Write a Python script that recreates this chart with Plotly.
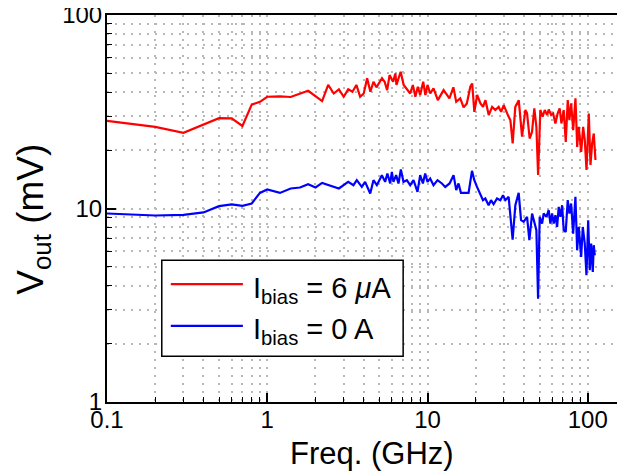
import plotly.graph_objects as go

# ---- data ----
freq_red = [0.1, 0.2, 0.3, 0.5, 0.6, 0.7, 0.8, 0.9, 1.0, 1.2, 1.4, 1.6, 1.8, 2.2, 2.4,
            2.6, 2.8, 3.0, 3.2, 3.4, 3.6, 3.8, 4.0, 4.2, 4.4, 4.6, 4.8, 5.2, 5.4, 5.6,
            5.8, 6.1, 6.3, 6.4, 6.8, 7.1, 7.4, 7.8, 8.1, 8.4, 8.7, 9.0, 9.4, 9.7, 10.0,
            10.4, 10.9, 11.6, 12.6, 13.7, 14.5, 15.1, 16.0, 16.8, 17.6, 18.5, 19.0, 19.6,
            20.4, 21.4, 22.2, 23.0, 24.1, 25.3, 26.5, 27.8, 28.8, 29.9, 31.4, 32.9, 34.0,
            35.3, 37.1, 38.9, 40.8, 41.8, 43.4, 44.9, 46.4, 47.8, 49.0, 50.6, 52.3, 53.9,
            55.8, 57.1, 59.1, 60.8, 62.8, 64.9, 66.8, 68.5, 70.8, 72.9, 75.0, 76.8, 78.8,
            81.1, 83.8, 85.9, 87.9, 91.0, 93.6, 95.8, 98.2, 101.5, 104.0, 106.5, 109.0, 111.7]
vout_red = [28.4, 26.4, 24.6, 29.3, 29.2, 26.7, 34.4, 35.6, 37.8, 38.0, 37.7, 39.3, 40.6, 35.9, 43.5,
            39.3, 41.3, 37.8, 41.3, 40.1, 43.5, 37.8, 39.3, 47.1, 40.1, 45.2, 42.3, 47.1, 45.2, 40.9,
            48.9, 45.2, 49.9, 43.5, 50.9, 43.5, 41.8, 39.3, 43.5, 37.8, 42.6, 38.6, 45.2, 38.6, 43.5,
            39.3, 41.8, 36.3, 40.9, 37.1, 42.3, 35.6, 37.1, 33.3, 34.9, 42.6, 44.3, 31.6,
            38.6, 34.9, 33.5, 36.3, 30.4, 33.5, 32.3, 33.5, 31.6, 34.2, 31.0, 28.6, 21.7,
            33.5, 36.3, 23.5, 32.3, 31.0, 23.0, 24.9, 32.9, 26.4, 14.9, 32.3, 29.8, 32.3,
            30.4, 32.5, 30.4, 31.0, 27.5, 31.0, 32.9, 27.5, 32.3, 22.1, 36.3, 28.6, 34.9,
            25.4, 37.1, 20.8, 26.4, 19.6, 26.4, 22.6, 15.8, 31.0, 16.8, 21.7, 24.4, 17.8]

freq_blue = [0.1, 0.2, 0.3, 0.4, 0.5, 0.6, 0.7, 0.8, 0.9, 1.0, 1.2, 1.4, 1.6, 1.8, 2.0, 2.2,
             2.8, 3.2, 3.45, 3.62, 3.89, 4.08, 4.39, 4.60, 4.83, 5.19, 5.44, 5.62, 5.85, 5.99,
             6.13, 6.37, 6.59, 6.82, 7.08, 7.43, 7.80, 8.18, 8.66, 9.00, 9.36, 9.67, 10.0,
             10.39, 10.9, 11.55, 12.30, 12.90, 13.73, 14.54, 15.11, 15.62, 16.17, 16.79, 18.04,
             18.95, 19.59, 20.37, 21.35, 22.20, 22.95, 24.06, 24.91, 25.85, 27.15, 28.48, 29.60,
             30.59, 32.08, 33.98, 35.33, 37.06, 38.35, 39.81, 41.81, 43.21, 44.93, 46.44, 47.80,
             48.98, 50.12, 51.88, 53.09, 55.20, 57.05, 58.46, 59.91, 61.31, 62.82, 64.39, 65.89,
             67.52, 69.18, 70.79, 72.87, 74.99, 76.84, 78.75, 81.05, 83.77, 85.87, 87.87, 90.96,
             93.07, 95.79, 98.15, 100.6, 102.9, 105.0, 107.5, 109.0, 110.6]
vout_blue = [9.42, 9.20, 9.27, 9.54, 10.28, 10.49, 10.32, 10.61, 12.04, 12.54, 12.04, 12.69, 12.84, 13.36, 12.84, 13.56,
             12.69, 13.73, 13.20, 14.01, 12.93, 13.73, 11.96, 14.01, 13.20, 14.87, 13.73, 15.18, 13.47, 15.47,
             13.73, 14.87, 13.47, 15.92, 13.73, 14.01, 13.20, 14.01, 12.19, 14.87, 13.47, 15.18, 13.73,
             14.30, 13.20, 14.01, 13.47, 12.93, 13.47, 14.87, 12.44, 13.47, 12.04, 12.04, 12.04,
             15.65, 14.01, 12.93, 11.96, 11.04, 11.27, 10.40, 11.04, 10.52, 11.27, 11.04, 11.72,
             11.04, 11.48, 6.91, 10.40, 12.04, 8.70, 8.53, 9.05, 6.86, 9.42, 8.53, 7.72,
             3.42, 9.05, 8.36, 9.42, 9.05, 9.80, 8.36, 9.42, 8.36, 9.23, 8.03, 10.19,
             9.05, 10.40, 7.72, 7.56, 11.04, 9.42, 10.61, 7.42, 11.48, 6.08, 8.03, 5.62,
             8.03, 6.59, 4.52, 8.70, 4.80, 6.59, 4.70, 6.46, 5.73]

x_tick_vals = [0.1, 1, 10, 100]
x_tick_text = ["0.1", "1", "10", "100"]
y_tick_vals = [1, 10, 100]
y_tick_text = ["1", "10", "100"]
x_title = "Freq. (GHz)"
y_title = "V<sub>out</sub> (mV)"
legend_red = "I<sub>bias</sub> = 6 <i>\u03bc</i>A"
legend_blue = "I<sub>bias</sub> = 0 A"

FONT = "Liberation Sans, Arial, Helvetica, sans-serif"
GRID = "#b8b8b8"

x_minor = [m * 10 ** e for e in (-1, 0, 1, 2) for m in range(2, 10)]
y_minor = [m * 10 ** e for e in (0, 1) for m in range(2, 10)]

fig = go.Figure()
fig.add_trace(go.Scatter(x=freq_red, y=vout_red, mode="lines", name=legend_red,
                         line=dict(color="#ff0000", width=2.2), showlegend=False))
fig.add_trace(go.Scatter(x=freq_blue, y=vout_blue, mode="lines", name=legend_blue,
                         line=dict(color="#0000ff", width=2.2), showlegend=False))

axis_common = dict(
    type="log",
    showline=True, linecolor="black", linewidth=2,
    ticks="inside", ticklen=9, tickwidth=1.5, tickcolor="black",
    showgrid=True, gridcolor=GRID, gridwidth=1.5, griddash="2px,6px",
    zeroline=False,
    ticklabeloverflow="allow",
    tickfont=dict(family=FONT, size=24, color="black"),
)

# x axis runs to 200 GHz; the picture is cropped at the right edge
fig.update_xaxes(
    **axis_common,
    range=[-1, 2.30103],
    tickmode="array", tickvals=x_tick_vals, ticktext=x_tick_text,
    ticklabelstandoff=-5,
    mirror=True,
    minor=dict(tickmode="array", tickvals=x_minor, ticks="inside", ticklen=5,
               tickwidth=1.2, tickcolor="black", showgrid=True, gridcolor=GRID,
               gridwidth=1.5, griddash="2px,6px"),
)
fig.update_yaxes(
    **axis_common,
    range=[0, 2],
    tickmode="array", tickvals=y_tick_vals, ticktext=y_tick_text,
    ticklabelstandoff=-2,
    minor=dict(tickmode="array", tickvals=y_minor, ticks="inside", ticklen=5,
               tickwidth=1.2, tickcolor="black", showgrid=True, gridcolor=GRID,
               gridwidth=1.5, griddash="2px,6px"),
)

PW = 528.2  # plot width in px
PH = 386.7  # plot height in px
def px(x):
    return (x - 107.3) / PW
def py(y):
    return (401.7 - y) / PH

# axis titles
fig.add_annotation(xref="paper", yref="paper", x=0.5, y=py(453), xanchor="center", yanchor="middle",
                   text=x_title, showarrow=False, font=dict(family=FONT, size=31, color="black"))
fig.add_annotation(xref="paper", yref="paper", x=px(34), y=py(219), xanchor="center", yanchor="middle",
                   text=y_title, textangle=-90, showarrow=False,
                   font=dict(family=FONT, size=37, color="black"))

# legend box drawn manually (long line samples as in the original)
fig.add_shape(type="rect", xref="paper", yref="paper", x0=px(162), x1=px(403), y0=py(356), y1=py(260),
              line=dict(color="black", width=1.5), fillcolor="white", layer="above")
fig.add_shape(type="line", xref="paper", yref="paper", x0=px(171), x1=px(243), y0=py(284), y1=py(284),
              line=dict(color="#ff0000", width=2.2), layer="above")
fig.add_shape(type="line", xref="paper", yref="paper", x0=px(171), x1=px(243), y0=py(325.7), y1=py(325.7),
              line=dict(color="#0000ff", width=2.2), layer="above")
fig.add_annotation(xref="paper", yref="paper", x=px(251.5), y=0.289, xanchor="left", yanchor="middle",
                   text=legend_red, showarrow=False, font=dict(family=FONT, size=29, color="black"))
fig.add_annotation(xref="paper", yref="paper", x=px(251.5), y=0.183, xanchor="left", yanchor="middle",
                   text=legend_blue, showarrow=False, font=dict(family=FONT, size=29, color="black"))

# the page adds an 8 px body margin, so the plot box is placed 8 px up/left
fig.update_layout(
    width=628, height=473,
    margin=dict(l=99, r=0, t=7, b=79, autoexpand=False),
    paper_bgcolor="white", plot_bgcolor="white",
    font=dict(family=FONT, color="black"),
)

fig.write_html("out.html")
